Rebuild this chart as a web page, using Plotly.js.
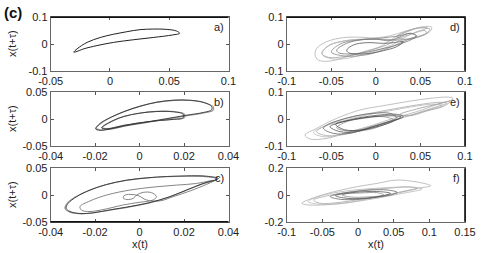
<!DOCTYPE html>
<html><head><meta charset="utf-8">
<script src="https://cdn.plot.ly/plotly-3.0.1.min.js"></script>
<style>html,body{margin:0;padding:0;background:#fff}#plot{width:482px;height:253px}</style>
</head><body><div id="plot"></div>
<script>
// ---- panel a ----
const aX = [-0.0305,-0.0277,-0.0193,-0.0082,0.003,0.0141,0.0253,0.0365,0.0476,0.056,0.0588,0.053,0.0365,0.0197,0.003,-0.011,-0.022,-0.029,-0.0305];
const aY = [-0.0305,-0.018,0.006,0.0244,0.0366,0.046,0.0537,0.056,0.0549,0.0488,0.040,0.034,0.0244,0.0159,0.006,-0.006,-0.018,-0.0295,-0.0305];
// ---- panel b ----
const bOuterDarkX = [-0.0198,-0.0178,-0.0133,-0.0073,0.0,0.0076,0.0151,0.0226,0.0286,0.0324,0.0324,0.0286,0.0211,0.0121,0.0031,-0.0058,-0.0133,-0.0178,-0.0198];
const bOuterDarkY = [-0.0184,-0.0082,0.0025,0.0133,0.0234,0.031,0.0348,0.0348,0.031,0.0234,0.017,0.012,0.007,0.0006,-0.0057,-0.012,-0.0184,-0.0209,-0.0184];
const bOuterGrayX = [-0.0195,-0.0172,-0.0128,-0.0068,0.0004,0.0080,0.0155,0.0230,0.0292,0.0332,0.0330,0.0290,0.0215,0.0125,0.0035,-0.0055,-0.0130,-0.0180,-0.0195];
const bOuterGrayY = [-0.0170,-0.0075,0.0030,0.0138,0.0238,0.0312,0.0345,0.0342,0.0300,0.0225,0.0160,0.0110,0.0062,0.0000,-0.0062,-0.0125,-0.0190,-0.0200,-0.0170];
const bInnerDarkX = [-0.0171,-0.0133,-0.0073,0.0,0.0076,0.0151,0.0196,0.0196,0.0151,0.0076,0.0,-0.0073,-0.0148,-0.0171];
const bInnerDarkY = [-0.0165,-0.0057,0.0044,0.0108,0.0139,0.0133,0.0089,0.0025,-0.0006,-0.0032,-0.007,-0.012,-0.0184,-0.0165];
const bInnerGrayX = [-0.0168,-0.0128,-0.0068,0.0005,0.0080,0.0155,0.0202,0.0200,0.0150,0.0072,-0.0004,-0.0078,-0.0150,-0.0168];
const bInnerGrayY = [-0.0155,-0.0050,0.0050,0.0112,0.0142,0.0138,0.0092,0.0022,-0.0010,-0.0036,-0.0074,-0.0125,-0.0178,-0.0155];
// ---- panel c ----
const cOuterDarkX = [0.0354,0.0301,0.0211,0.0121,0.0031,-0.0058,-0.0148,-0.0223,-0.0283,-0.0321,-0.0331,-0.0313,-0.0268,-0.0208,-0.0133,-0.0043,0.0046,0.0136,0.0211,0.0286,0.0354];
const cOuterDarkY = [0.0309,0.0352,0.0358,0.0346,0.0321,0.0278,0.0198,0.0093,-0.0031,-0.0154,-0.0247,-0.0309,-0.0346,-0.0333,-0.0278,-0.0216,-0.0142,-0.0031,0.0093,0.0216,0.0309];
const cOuterGrayX = [0.0350,0.0298,0.0208,0.0118,0.0028,-0.0062,-0.0152,-0.0228,-0.0290,-0.0327,-0.0336,-0.0316,-0.0270,-0.0210,-0.0135,-0.0045,0.0044,0.0134,0.0209,0.0284,0.0350];
const cOuterGrayY = [0.0300,0.0345,0.0352,0.0341,0.0316,0.0272,0.0192,0.0086,-0.0038,-0.0160,-0.0255,-0.0318,-0.0352,-0.0338,-0.0284,-0.0222,-0.0148,-0.0038,0.0086,0.0208,0.0300];
const cInnerX = [0.0331,0.0256,0.0166,0.0061,-0.0043,-0.0148,-0.0223,-0.0268,-0.0261,-0.0223,-0.0148,-0.0073,0.0001,0.0061,0.0076,0.0054,0.0016,-0.0013,-0.0028,-0.0051,-0.0073,-0.0070,-0.0043,-0.0006,0.0031,0.0091,0.0151,0.0226,0.0301,0.0346];
const cInnerY = [0.0278,0.0216,0.0185,0.0148,0.0093,0.0,-0.0111,-0.0216,-0.0284,-0.0309,-0.0259,-0.0185,-0.0136,-0.0093,-0.0031,0.0043,0.0049,0.0,-0.0062,-0.0086,-0.0062,-0.0012,0.0012,-0.0012,-0.0093,-0.0111,-0.0031,0.0074,0.0198,0.0284];
// ---- panel d ----
const d1X = [-0.0682,-0.0645,-0.0514,-0.0327,-0.014,0.0047,0.0196,0.0383,0.0533,0.0626,0.0607,0.0458,0.0271,0.0084,-0.014,-0.0364,-0.055,-0.0663,-0.0682];
const d1Y = [-0.0413,-0.06,-0.0638,-0.0475,-0.0288,-0.01,0.0213,0.05,0.065,0.0625,0.0463,0.0275,0.015,0.0175,0.025,0.0238,0.0088,-0.0163,-0.0413];
const d2X = [-0.0607,-0.0533,-0.0364,-0.0177,-0.0028,0.0121,0.0234,0.0421,0.0551,0.057,0.0458,0.0308,0.0121,-0.0103,-0.0327,-0.0514,-0.0607];
const d2Y = [-0.035,-0.05,-0.0475,-0.035,-0.02,-0.0038,0.0175,0.04,0.05,0.04,0.025,0.015,0.0175,0.0175,0.0125,-0.0038,-0.035];
const d3X = [-0.0439,-0.0327,-0.0177,0.0009,0.0159,0.0271,0.0383,0.0458,0.0346,0.0196,0.0009,-0.0177,-0.0327,-0.042,-0.0439];
const d3Y = [-0.0225,0.0025,0.015,0.0175,0.0125,0.0275,0.04,0.03,0.0088,-0.0075,-0.0225,-0.035,-0.0375,-0.0325,-0.0225];
const d4X = [-0.0327,-0.0252,-0.0103,0.0084,0.0196,0.0308,0.0234,0.0084,-0.0065,-0.0215,-0.0308,-0.0327];
const d4Y = [-0.0225,-0.0038,0.005,0.0025,0.005,0.0088,-0.01,-0.025,-0.035,-0.0375,-0.0325,-0.0225];
const d5X = [0.0234,0.0458,0.0607,0.0533,0.0346,0.0234];
const d5Y = [0.0275,0.0588,0.055,0.0338,0.0175,0.0275];
const d6X = [-0.06,-0.05,-0.035,-0.015,0.005,0.02,0.03,0.045,0.058,0.05,0.035,0.015,-0.01,-0.035,-0.055,-0.06];
const d6Y = [-0.04,-0.055,-0.055,-0.04,-0.02,0.0,0.02,0.045,0.06,0.062,0.05,0.03,0.02,0.012,-0.01,-0.04];
const d7X = [-0.05,-0.035,-0.01,0.01,0.025,0.035,0.045,0.04,0.025,0.005,-0.02,-0.04,-0.05];
const d7Y = [-0.03,-0.045,-0.04,-0.02,0.0,0.015,0.03,0.04,0.03,0.022,0.015,0.0,-0.03];
// ---- panel e ----
const e1X = [-0.0794,-0.0738,-0.0551,-0.029,-0.0028,0.0196,0.0458,0.072,0.087,0.0832,0.0607,0.0346,0.0084,-0.0178,-0.0439,-0.0664,-0.0794];
const e1Y = [-0.0593,-0.0741,-0.0716,-0.0469,-0.0222,0.0025,0.0272,0.058,0.0741,0.0802,0.0765,0.0642,0.0494,0.0333,0.0025,-0.0346,-0.0593];
const e2X = [-0.0664,-0.0551,-0.0327,-0.0103,0.0159,0.0421,0.0682,0.0794,0.072,0.0458,0.0196,-0.0065,-0.0327,-0.0551,-0.0664];
const e2Y = [-0.0469,-0.0617,-0.0531,-0.0321,-0.0074,0.0173,0.0457,0.058,0.0617,0.0519,0.037,0.021,0.0025,-0.0222,-0.0469];
const e3X = [-0.0589,-0.0477,-0.029,-0.0103,0.0084,0.0234,0.0159,-0.0028,-0.0215,-0.0402,-0.0533,-0.0589];
const e3Y = [-0.0346,-0.0531,-0.0531,-0.0346,-0.016,0.0049,0.021,0.021,0.0123,-0.0037,-0.0198,-0.0346];
const e4X = [-0.0514,-0.0402,-0.0215,-0.0028,0.0159,0.0308,0.0234,0.0047,-0.0178,-0.0364,-0.0514];
const e4Y = [-0.0284,-0.0469,-0.0469,-0.0284,-0.0099,0.0086,0.0173,0.0148,0.0049,-0.0099,-0.0284];
const e5X = [0.0271,0.0458,0.0682,0.0832,0.0757,0.057,0.0383,0.0271];
const e5Y = [0.0173,0.037,0.0543,0.0642,0.0469,0.0296,0.0123,0.0173];
const e6X = [-0.0439,-0.0327,-0.0103,0.0084,0.0196,0.0084,-0.014,-0.0327,-0.0439];
const e6Y = [-0.0321,-0.0444,-0.0407,-0.0222,-0.0037,0.0086,0.0025,-0.0099,-0.0321];
const e7X = [-0.07,-0.06,-0.04,-0.015,0.01,0.035,0.06,0.075,0.065,0.04,0.015,-0.01,-0.035,-0.06,-0.07];
const e7Y = [-0.05,-0.065,-0.06,-0.04,-0.015,0.01,0.035,0.05,0.055,0.045,0.03,0.015,-0.005,-0.03,-0.05];
const e8X = [-0.045,-0.035,-0.015,0.005,0.02,0.028,0.015,-0.005,-0.025,-0.045];
const e8Y = [-0.02,-0.04,-0.04,-0.025,-0.008,0.008,0.012,0.008,-0.002,-0.02];
// ---- panel f ----
const f1X = [-0.0788,-0.0694,-0.0342,-0.0108,0.0174,0.0502,0.083,0.1018,0.0924,0.0549,0.0267,-0.0014,-0.0296,-0.0577,-0.0788];
const f1Y = [-0.0621,-0.0745,-0.0696,-0.0547,-0.0248,0.0124,0.0497,0.0696,0.087,0.1118,0.087,0.0621,0.0298,-0.0124,-0.0621];
const f2X = [-0.0624,-0.053,-0.0249,0.0033,0.0361,0.0643,0.083,0.069,0.0408,0.008,-0.0249,-0.0483,-0.0624];
const f2Y = [-0.0373,-0.0621,-0.0547,-0.0323,-0.005,0.0248,0.0497,0.0596,0.0497,0.0373,0.0124,-0.0124,-0.0373];
const f3X = [-0.0389,-0.0249,-0.0014,0.022,0.0455,0.0549,0.0408,0.0174,-0.0061,-0.0296,-0.0389];
const f3Y = [-0.0124,-0.0323,-0.0323,-0.0199,0.0,0.0199,0.0373,0.0373,0.0248,0.005,-0.0124];
const f4X = [-0.0319,-0.0155,0.008,0.0314,0.0455,0.0314,0.008,-0.0155,-0.0319];
const f4Y = [-0.005,-0.0248,-0.0248,-0.01,0.0124,0.0248,0.0248,0.0124,-0.005];
const f5X = [-0.0225,-0.0108,0.0127,0.0361,0.0267,0.0033,-0.0155,-0.0225];
const f5Y = [0.0,-0.0149,-0.0149,0.0,0.0174,0.0149,0.01,0.0];
const f6X = [-0.07,-0.05,-0.02,0.02,0.06,0.09,0.075,0.04,0.0,-0.035,-0.06,-0.07];
const f6Y = [-0.05,-0.07,-0.06,-0.03,0.01,0.045,0.06,0.055,0.04,0.015,-0.02,-0.05];

// ---- ticks ----
const aXTicks = [-0.05,0,0.05,0.1], aXText = ['-0.05','0','0.05','0.1'];
const aYTicks = [-0.1,0,0.1], aYText = ['-0.1','0','0.1'];
const bXTicks = [-0.04,-0.02,0,0.02,0.04], bXText = ['-0.04','-0.02','0','0.02','0.04'];
const bYTicks = [-0.05,0,0.05], bYText = ['-0.05','0','0.05'];
const dXTicks = [-0.1,-0.05,0,0.05,0.1], dXText = ['-0.1','-0.05','0','0.05','0.1'];
const dYTicks = [-0.1,0,0.1], dYText = ['-0.1','0','0.1'];
const fXTicks = [-0.1,-0.05,0,0.05,0.1,0.15], fXText = ['-0.1','-0.05','0','0.05','0.1','0.15'];
const fYTicks = [-0.2,0,0.2], fYText = ['-0.2','0','0.2'];
const panelLabels = ['a)','b)','c)','d)','e)','f)'];

function tr(x, y, ax, color, w) {
  return {x: x, y: y, xaxis: 'x' + ax, yaxis: 'y' + ax, type: 'scatter', mode: 'lines',
    line: {color: color, width: w || 0.9, shape: 'spline', smoothing: 1}, hoverinfo: 'skip', showlegend: false};
}
const data = [
  tr(aX, aY, '', '#222', 1),
  tr(bOuterGrayX, bOuterGrayY, '2', '#999', 1.1),
  tr(bInnerGrayX, bInnerGrayY, '2', '#999', 1.1),
  tr(bOuterDarkX, bOuterDarkY, '2', '#333', 0.9),
  tr(bInnerDarkX, bInnerDarkY, '2', '#333', 0.9),
  tr(cOuterGrayX, cOuterGrayY, '3', '#999', 1.1),
  tr(cInnerX, cInnerY, '3', '#777', 0.9),
  tr(cOuterDarkX, cOuterDarkY, '3', '#333', 0.9),
  tr(d1X, d1Y, '4', '#b0b0b0', 0.8),
  tr(d2X, d2Y, '4', '#a0a0a0', 0.8),
  tr(d6X, d6Y, '4', '#b8b8b8', 0.8),
  tr(d5X, d5Y, '4', '#999', 0.8),
  tr(d7X, d7Y, '4', '#888', 0.8),
  tr(d3X, d3Y, '4', '#777', 0.8),
  tr(d4X, d4Y, '4', '#555', 0.8),
  tr(e1X, e1Y, '5', '#b0b0b0', 0.8),
  tr(e2X, e2Y, '5', '#a8a8a8', 0.8),
  tr(e7X, e7Y, '5', '#b8b8b8', 0.8),
  tr(e5X, e5Y, '5', '#999', 0.8),
  tr(e6X, e6Y, '5', '#888', 0.8),
  tr(e3X, e3Y, '5', '#666', 0.8),
  tr(e4X, e4Y, '5', '#555', 0.8),
  tr(e8X, e8Y, '5', '#444', 0.8),
  tr(f1X, f1Y, '6', '#b0b0b0', 0.8),
  tr(f2X, f2Y, '6', '#a8a8a8', 0.8),
  tr(f6X, f6Y, '6', '#b8b8b8', 0.8),
  tr(f5X, f5Y, '6', '#888', 0.8),
  tr(f3X, f3Y, '6', '#666', 0.8),
  tr(f4X, f4Y, '6', '#555', 0.8)
];

const FONT = {family: 'Liberation Sans, Arial, sans-serif', size: 11, color: '#222'};
const W = 482, H = 253;
const colL = [50.7 / W, 228.5 / W], colR = [286.7 / W, 465 / W];
const row1 = [1 - 70.7 / H, 1 - 17.3 / H], row2 = [1 - 146 / H, 1 - 92 / H], row3 = [1 - 221.7 / H, 1 - 168.3 / H];

function xa(dom, range, tv, tt, anchor) {
  return {domain: dom, range: range, tickmode: 'array', tickvals: tv, ticktext: tt, ticks: 'inside', ticklen: 3,
    tickcolor: '#555', showline: true, linecolor: '#666', linewidth: 1, mirror: 'ticks', showgrid: false,
    zeroline: false, anchor: anchor, tickfont: FONT, fixedrange: true};
}
const layout = {
  width: W, height: H, margin: {l: 0, r: 0, t: 0, b: 0}, paper_bgcolor: '#fff', plot_bgcolor: '#fff',
  font: FONT, showlegend: false,
  xaxis: xa(colL, [-0.05, 0.1], aXTicks, aXText, 'y'),
  yaxis: xa(row1, [-0.1, 0.1], aYTicks, aYText, 'x'),
  xaxis2: xa(colL, [-0.04, 0.04], bXTicks, bXText, 'y2'),
  yaxis2: xa(row2, [-0.05, 0.05], bYTicks, bYText, 'x2'),
  xaxis3: xa(colL, [-0.04, 0.04], bXTicks, bXText, 'y3'),
  yaxis3: xa(row3, [-0.05, 0.05], bYTicks, bYText, 'x3'),
  xaxis4: xa(colR, [-0.1, 0.1], dXTicks, dXText, 'y4'),
  yaxis4: xa(row1, [-0.1, 0.1], dYTicks, dYText, 'x4'),
  xaxis5: xa(colR, [-0.1, 0.1], dXTicks, dXText, 'y5'),
  yaxis5: xa(row2, [-0.1, 0.1], dYTicks, dYText, 'x5'),
  xaxis6: xa(colR, [-0.1, 0.15], fXTicks, fXText, 'y6'),
  yaxis6: xa(row3, [-0.2, 0.2], fYTicks, fYText, 'x6'),
  annotations: [],
  shapes: []
};
const axSuffix = ['', '2', '3', '4', '5', '6'];
axSuffix.forEach((s, i) => {
  layout.annotations.push({xref: 'x' + s + ' domain', yref: 'y' + s + ' domain', x: 0.985, y: 0.97,
    xanchor: 'right', yanchor: 'top', text: panelLabels[i], showarrow: false, font: FONT});
});
[row1, row2, row3].forEach(r => {
  layout.annotations.push({xref: 'paper', yref: 'paper', x: 12 / W, y: (r[0] + r[1]) / 2, text: 'x(t+τ)',
    textangle: -90, showarrow: false, font: FONT, xanchor: 'center', yanchor: 'middle'});
});
layout.annotations.push({xref: 'paper', yref: 'paper', x: (colL[0] + colL[1]) / 2, y: 1 - 244 / H, text: 'x(t)',
  showarrow: false, font: FONT, xanchor: 'center', yanchor: 'middle', borderpad: 0});
layout.annotations.push({xref: 'paper', yref: 'paper', x: (colR[0] + colR[1]) / 2, y: 1 - 244 / H, text: 'x(t)',
  showarrow: false, font: FONT, xanchor: 'center', yanchor: 'middle', borderpad: 0});
layout.annotations.push({xref: 'paper', yref: 'paper', x: 2 / W, y: 1 - 12.5 / H, text: '<b>(c)</b>',
  showarrow: false, font: {family: 'Liberation Sans, Arial, sans-serif', size: 15, color: '#111'}, xanchor: 'left', yanchor: 'middle'});
function edge(s, x0, y0, x1, y1) {
  layout.shapes.push({type: 'line', xref: 'x' + s + ' domain', yref: 'y' + s + ' domain', x0: x0, y0: y0, x1: x1, y1: y1,
    line: {color: '#111', width: 1.6}});
}
edge('', 0, 1, 1, 1);
edge('4', 0, 1, 1, 1);
edge('4', 1, 0, 1, 1);
edge('5', 1, 0, 1, 1);
edge('6', 1, 0, 1, 1);
edge('3', 0, 0, 1, 0);
Plotly.newPlot('plot', data, layout, {staticPlot: true, displayModeBar: false});
</script></body></html>
